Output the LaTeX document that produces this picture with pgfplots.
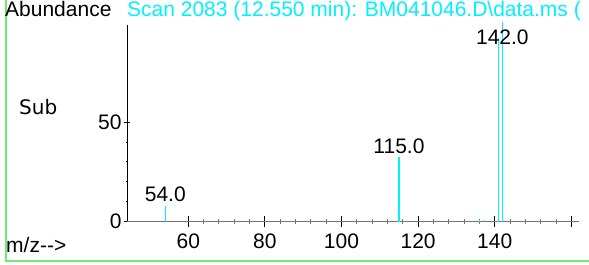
\documentclass[border=0pt]{standalone}
\usepackage{fontspec}
\setmainfont[Ligatures=NoCommon]{Liberation Sans}
\newfontfamily\dejavu{DejaVu Sans}
\usepackage{pgfplots}
\pgfplotsset{compat=1.18}
\definecolor{peak}{RGB}{0,240,255}
\definecolor{framegreen}{RGB}{110,235,110}
\definecolor{axgray}{RGB}{115,115,115}
\newcommand{\bigf}{\fontsize{21}{21}\selectfont}
\pgfplotsset{commonax/.style={
  at={(127pt,43.5pt)}, anchor=south west,
  scale only axis, width=452pt, height=196.5pt,
  xmin=44, xmax=162, ymin=0, ymax=98.7,
  clip=false, tick align=outside,
  /pgf/number format/assume math mode=true,
  ticklabel style={font=\bigf},
}}
\begin{document}
\begin{tikzpicture}[x=1pt,y=1pt]
\path[use as bounding box] (0,0) rectangle (589,265);
\draw[framegreen, line width=1.2pt] (6,300) -- (6,4) -- (700,4);
% y axis
\begin{axis}[commonax,
  axis x line=none, axis y line=left,
  y axis line style={black,-,line width=1pt},
  ytick={0,50}, minor y tick num=4,
  major tick length=6pt, minor tick length=2.5pt,
  every major y tick/.append style={black, line width=0.9pt},
  every minor y tick/.append style={black, line width=0.7pt},
  yticklabel style={xshift=1pt},
]
\end{axis}
% x axis and data
\begin{axis}[commonax,
  axis x line=bottom, axis y line=none,
  x axis line style={axgray,-,line width=1pt},
  xtick={60,80,100,120,140,160}, xticklabels={60,80,100,120,140,{}},
  minor x tick num=4,
  major tick length=11pt, minor tick length=5pt,
  every major x tick/.append style={black, line width=0.9pt},
  every minor x tick/.append style={axgray, line width=0.9pt},
  xticklabel style={yshift=-3pt},
]
\addplot[ycomb, peak, line width=1.1pt, no markers] coordinates {
  (54,7.8) (115,32.6) (136,0.7) (137,0.7) (141,92) (142,100)};
\node[anchor=base, font=\bigf] at (axis cs:54,9.8) {54.0};
\node[anchor=base, font=\bigf] at (axis cs:115,34.4) {115.0};
\node[anchor=base, font=\bigf] at (axis cs:142,88.7) {142.0};
\end{axis}
\node[anchor=base west, inner sep=0pt, font=\bigf] at (5,248) {Abundance};
\node[anchor=base west, inner sep=0pt, font=\bigf, text=peak] at (127,248) {Scan 2083 (12.550 min): BM041046.D\textbackslash data.ms (};
\node[anchor=base west, inner sep=0pt, font=\fontsize{20}{20}\selectfont\dejavu] at (19,150) {Sub};
\node[anchor=base west, inner sep=0pt, font=\bigf] at (6,12) {m/z\mbox{-}\mbox{-}>};
\end{tikzpicture}
\end{document}
